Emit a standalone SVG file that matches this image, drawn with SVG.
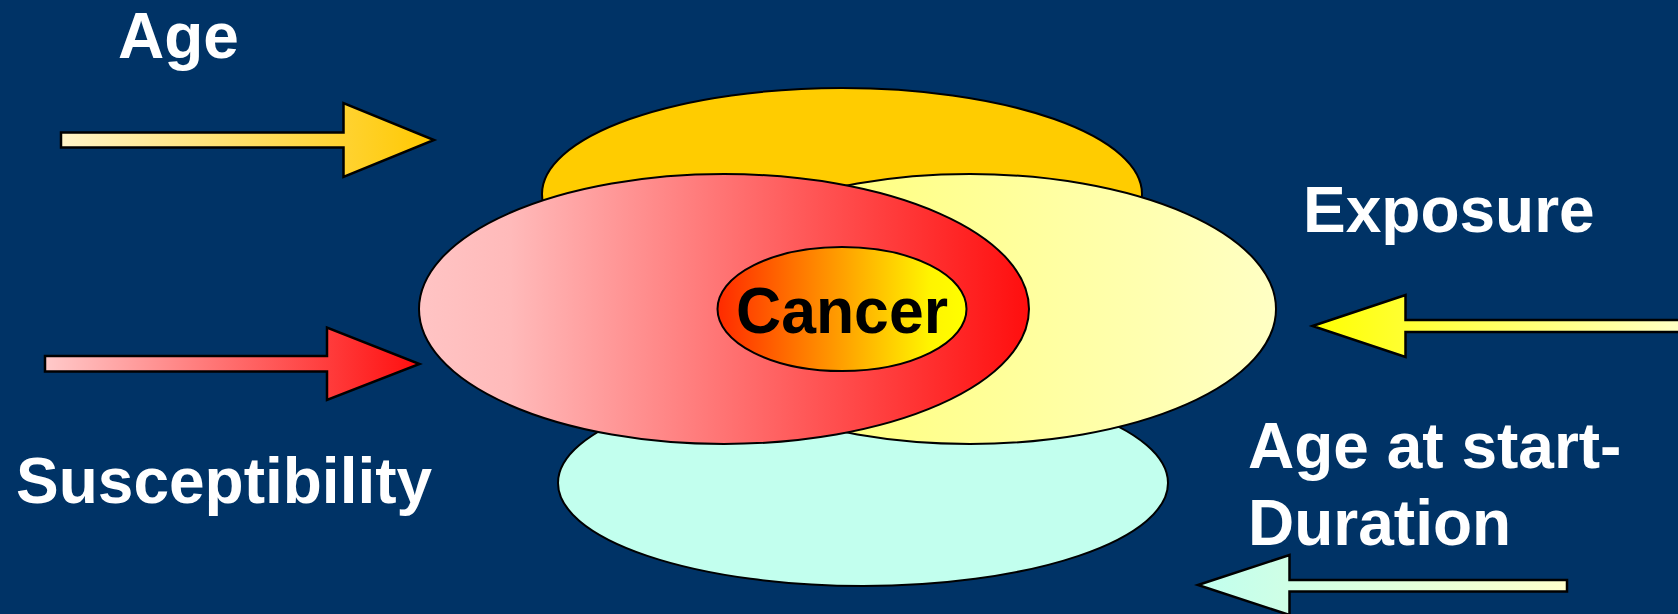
<svg xmlns="http://www.w3.org/2000/svg" width="1678" height="614" viewBox="0 0 1678 614">
<style>
.lbl{font-family:"Liberation Sans",Arial,sans-serif;font-weight:bold;font-size:64px;fill:#ffffff}
.cancer{font-family:"Liberation Sans",Arial,sans-serif;font-weight:bold;font-size:64px;fill:#000000}
.shape{stroke:#000;stroke-width:2}
.arrow{stroke:#000;stroke-width:2.5;stroke-linejoin:miter}
</style>
<defs>
<linearGradient id="gPink" x1="0" y1="0" x2="1" y2="0">
<stop offset="0" stop-color="#FFC4C4"/>
<stop offset="0.15" stop-color="#FFBABA"/>
<stop offset="1" stop-color="#FF0E0E"/>
</linearGradient>
<linearGradient id="gYellow" x1="0" y1="0" x2="1" y2="0">
<stop offset="0" stop-color="#FFFF66"/>
<stop offset="1" stop-color="#FFFFC4"/>
</linearGradient>
<linearGradient id="gCancer" x1="0" y1="0" x2="1" y2="0">
<stop offset="0" stop-color="#FF2A00"/>
<stop offset="0.5" stop-color="#FFA000"/>
<stop offset="0.85" stop-color="#FFF400"/>
<stop offset="1" stop-color="#FFFF00"/>
</linearGradient>
<linearGradient id="gAgeArrow" x1="0" y1="0" x2="1" y2="0">
<stop offset="0" stop-color="#FFF4C8"/>
<stop offset="1" stop-color="#FFC800"/>
</linearGradient>
<linearGradient id="gSuscArrow" x1="0" y1="0" x2="1" y2="0">
<stop offset="0" stop-color="#FFCACA"/>
<stop offset="1" stop-color="#FF0E0E"/>
</linearGradient>
<linearGradient id="gExpArrow" x1="0" y1="0" x2="1" y2="0">
<stop offset="0" stop-color="#FFFF00"/>
<stop offset="1" stop-color="#FFFFD0"/>
</linearGradient>
<linearGradient id="gDurArrow" x1="0" y1="0" x2="1" y2="0">
<stop offset="0" stop-color="#C0FFEE"/>
<stop offset="1" stop-color="#FFFFCC"/>
</linearGradient>
</defs>
<rect width="1678" height="614" fill="#003366"/>

<g id="node-age-ellipse"><ellipse class="shape" cx="842" cy="194" rx="300" ry="106" fill="#FFCC00"/></g>
<g id="node-duration-ellipse"><ellipse class="shape" cx="863" cy="483" rx="305" ry="103" fill="#C2FFEE"/></g>
<g id="node-exposure-ellipse"><ellipse class="shape" cx="970" cy="309" rx="306" ry="135" fill="url(#gYellow)"/></g>
<g id="node-susceptibility-ellipse"><ellipse class="shape" cx="724" cy="309" rx="305" ry="135" fill="url(#gPink)"/></g>
<g id="node-cancer"><ellipse class="shape" cx="842" cy="309" rx="124.5" ry="62" fill="url(#gCancer)"/>
<text class="cancer" x="842" y="333" text-anchor="middle" textLength="212" lengthAdjust="spacingAndGlyphs">Cancer</text></g>

<g id="connectors">
<polygon class="arrow" fill="url(#gAgeArrow)" points="61,132.5 343.5,132.5 343.5,103 434,140 343.5,177 343.5,147.5 61,147.5"/>
<polygon class="arrow" fill="url(#gSuscArrow)" points="45,356 327,356 327,327.5 419.5,364 327,400 327,371.5 45,371.5"/>
<polygon class="arrow" fill="url(#gExpArrow)" points="1312.5,326 1405.5,295 1405.5,320 1700,320 1700,332 1405.5,332 1405.5,357"/>
<polygon class="arrow" fill="url(#gDurArrow)" points="1198,585 1289.5,555 1289.5,580 1567,580 1567,591.5 1289.5,591.5 1289.5,615"/>
</g>

<g id="labels">
<text class="lbl" x="118" y="58" font-size="63">Age</text>
<text class="lbl" x="16" y="503">Susceptibility</text>
<text class="lbl" x="1303" y="232">Exposure</text>
<text class="lbl" x="1248" y="468">Age at start-</text>
<text class="lbl" x="1248" y="545">Duration</text>
</g>
</svg>
